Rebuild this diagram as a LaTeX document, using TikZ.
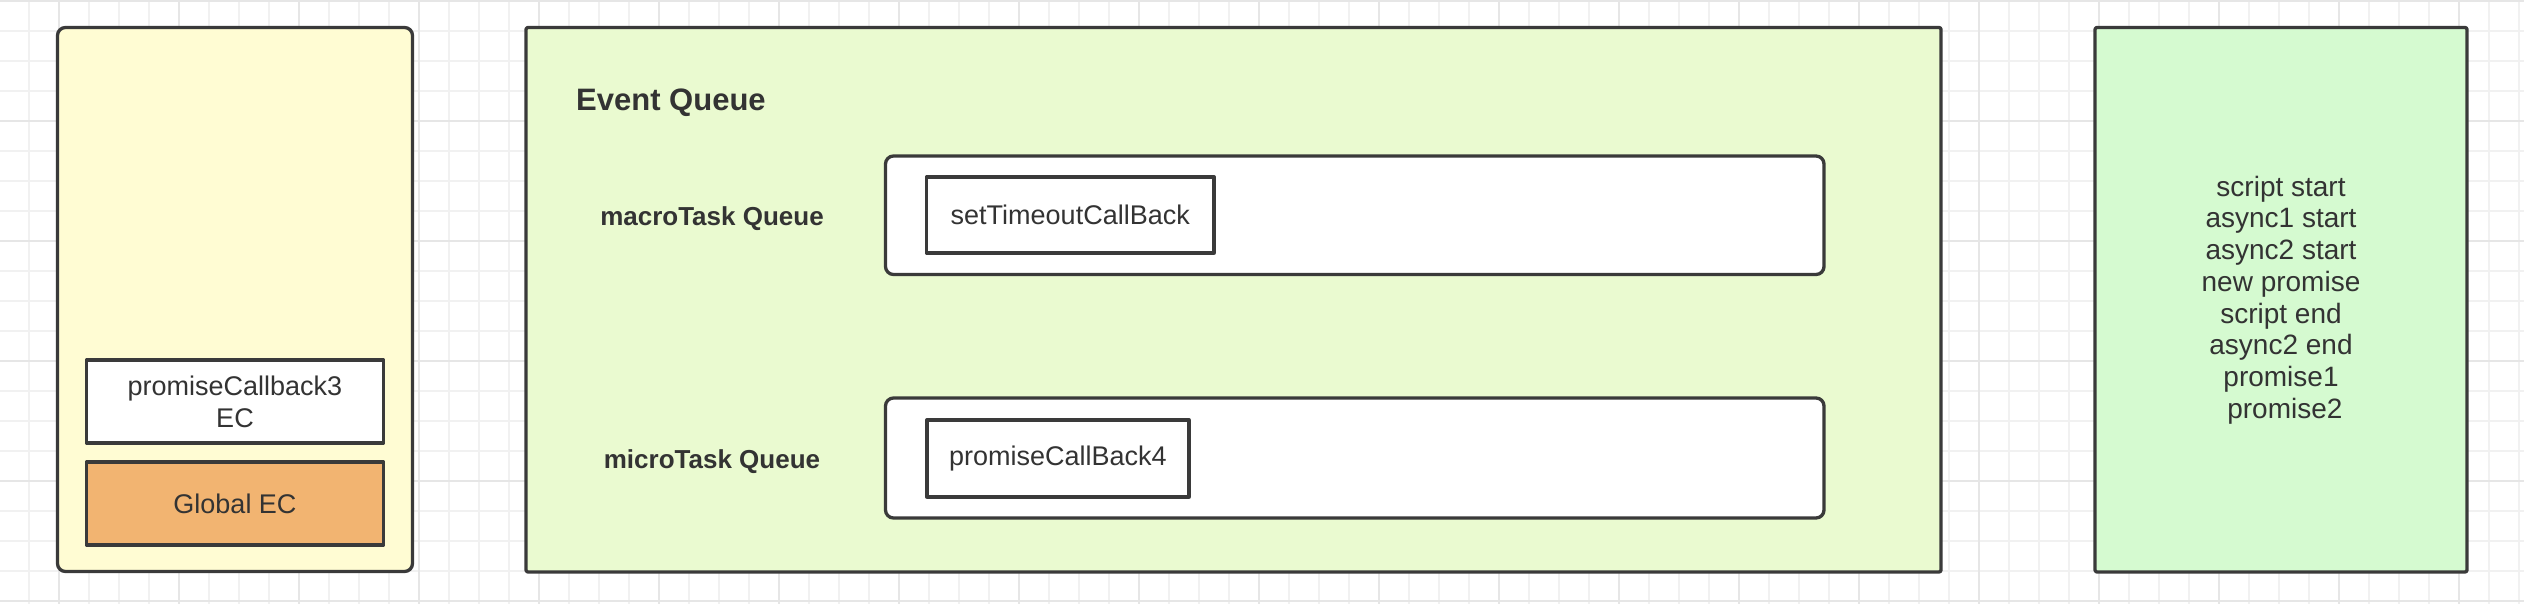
\documentclass[tikz,border=0pt]{standalone}
\usepackage{fontspec}
\setmainfont{Liberation Sans}
\definecolor{yellowc}{HTML}{FFFCD3}
\definecolor{greena}{HTML}{EAFAD0}
\definecolor{greenb}{HTML}{D5FAD0}
\definecolor{orangec}{HTML}{F2B471}
\definecolor{strokec}{HTML}{3A3A3A}
\definecolor{textc}{HTML}{333333}
\definecolor{gridminor}{HTML}{F1F1F1}
\definecolor{gridmajor}{HTML}{E6E6E6}
\begin{document}
\begin{tikzpicture}[x=1pt,y=-1pt,line join=round,
  boxs/.style={draw=strokec,line width=3.3pt,rectangle,inner sep=0pt,outer sep=0pt,
    font=\fontsize{27}{32}\selectfont,text=textc,align=center},
  lbl/.style={font=\bfseries\fontsize{26}{32}\selectfont,text=textc,inner sep=0pt},
  gmin/.style={draw=gridminor,line width=1.2pt},
  gmaj/.style={draw=gridmajor,line width=1.6pt}]
\useasboundingbox (0,0) rectangle (2524,604);
\fill[white] (0,0) rectangle (2524,604);
% grid
\foreach \x in {29,59,...,2524} \draw[gmin] (\x,0) -- (\x,604);
\foreach \y in {1,31,...,604} \draw[gmin] (0,\y) -- (2524,\y);
\foreach \x in {59,179,...,2524} \draw[gmaj] (\x,0) -- (\x,604);
\foreach \y in {1,121,...,604} \draw[gmaj] (0,\y) -- (2524,\y);
% call stack
\node[boxs,fill=yellowc,rounded corners=8pt,minimum width=355pt,minimum height=544pt] (stack) at (235,299.5) {};
\node[boxs,fill=white,minimum width=297pt,minimum height=83pt] (pc3) at (235,401.5) {promiseCallback3\\EC};
\node[boxs,fill=orangec,minimum width=297pt,minimum height=83pt] (gec) at (235,503.5) {Global EC};
% event queue
\node[boxs,fill=greena,rounded corners=2pt,minimum width=1415pt,minimum height=544.5pt] (eq) at (1233.5,299.75) {};
\node[lbl,anchor=west,font=\bfseries\fontsize{31}{36}\selectfont] (eqt) at (576,103) {Event Queue};
\node[lbl] (mact) at (712,218.5) {macroTask Queue};
\node[lbl] (mict) at (712,462) {microTask Queue};
\node[boxs,fill=white,rounded corners=8pt,minimum width=938.5pt,minimum height=118.5pt] (macq) at (1354.75,215.25) {};
\node[boxs,fill=white,minimum width=287.5pt,minimum height=76pt] (sto) at (1070.25,215) {setTimeoutCallBack};
\node[boxs,fill=white,rounded corners=8pt,minimum width=938.5pt,minimum height=120pt] (micq) at (1354.75,458) {};
\node[boxs,fill=white,minimum width=262pt,minimum height=77pt] (pc4) at (1058,458.5) {promiseCallBack4};
% output
\node[boxs,fill=greenb,rounded corners=2pt,minimum width=372pt,minimum height=544.5pt] (out) at (2281,299.75) {};
\node[font=\fontsize{28}{31.7}\selectfont,text=textc,align=center,inner sep=0pt] (outt) at (2281,300)
 {script start\\async1 start\\async2 start\\new promise\\script end\\async2 end\\promise1\\\ promise2};
\end{tikzpicture}
\end{document}
